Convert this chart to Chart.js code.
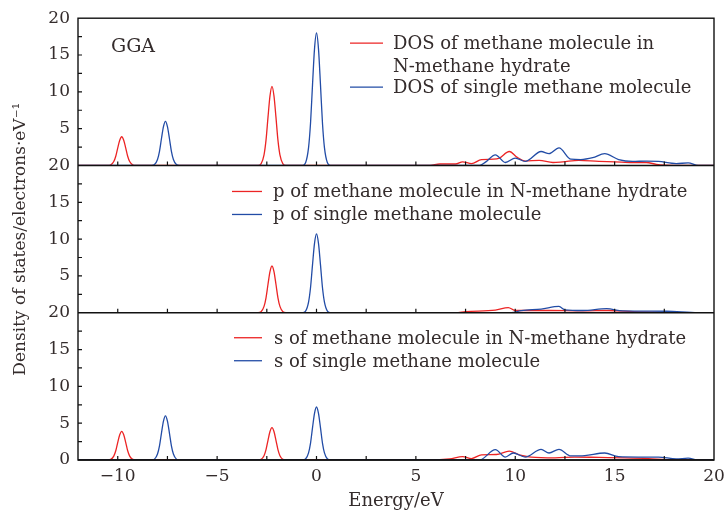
<!DOCTYPE html>
<html>
<head>
<meta charset="utf-8">
<script src="https://cdn.jsdelivr.net/npm/chart.js@4/dist/chart.umd.min.js"></script>
<style>
  body { margin: 0; background: #fff; }
  #wrap { width: 726px; height: 512px; }
</style>
</head>
<body>
<div id="wrap"><canvas id="dosChart" width="726" height="512"></canvas></div>
<script>
// energy range and y range of each panel
const xMin = -12, xMax = 20;
const yMin = 0, yMax = 20;
const xTickValues = [-10, -7.5, -5, -2.5, 0, 2.5, 5, 7.5, 10, 12.5, 15, 17.5, 20];
const yTickValues = [0, 2.5, 5, 7.5, 10, 12.5, 15, 17.5, 20];

// panel 1: total DOS  [energy, value]
const dosHydrate = [[-12,0],[-10.5,0],[-10.35,0.08],[-10.2,0.53],[-10.1,1.25],[-10.0,2.4],[-9.9,3.43],[-9.8,3.9],[-9.7,3.43],[-9.6,2.4],[-9.5,1.25],[-9.4,0.53],[-9.25,0.08],[-9.1,0],
  [-2.94,0],[-2.79,0.22],[-2.64,1.45],[-2.54,3.44],[-2.44,6.56],[-2.34,9.46],[-2.24,10.75],[-2.14,9.46],[-2.04,6.56],[-1.94,3.44],[-1.84,1.45],[-1.69,0.22],[-1.54,0],
  [5.7,0],[6.2,0.2],[7.0,0.2],[7.35,0.5],[7.8,0.25],[8.3,0.8],[8.9,0.85],[9.2,1.0],[9.7,1.9],[10.1,1.1],[10.5,0.6],[11.2,0.7],[11.9,0.4],[12.4,0.5],[13.2,0.7],[14.2,0.55],[15.0,0.5],[15.9,0.4],[16.6,0.4],[17.1,0.15],[17.6,0.05],[18.4,0],[20,0]];
const dosSingle = [[-12,0],[-8.3,0],[-8.15,0.12],[-8.0,0.81],[-7.9,1.92],[-7.8,3.66],[-7.7,5.28],[-7.6,6.0],[-7.5,5.28],[-7.4,3.66],[-7.3,1.92],[-7.2,0.81],[-7.05,0.12],[-6.9,0],
  [-0.7,0],[-0.55,0.36],[-0.4,2.43],[-0.3,5.76],[-0.2,10.98],[-0.1,15.84],[0,18],[0.1,15.84],[0.2,10.98],[0.3,5.76],[0.4,2.43],[0.55,0.36],[0.7,0],
  [8.2,0],[8.5,0.45],[9.0,1.45],[9.5,0.4],[10.0,1.0],[10.5,0.55],[11.3,1.9],[11.7,1.6],[12.2,2.4],[12.8,0.85],[13.3,0.8],[13.9,1.05],[14.5,1.6],[15.2,0.8],[15.9,0.55],[16.6,0.6],[17.2,0.55],[18.1,0.25],[18.7,0.35],[19.2,0],[20,0]];

// panel 2: p states
const pHydrate = [[-12,0],[-2.94,0],[-2.79,0.13],[-2.64,0.86],[-2.54,2.03],[-2.44,3.87],[-2.34,5.59],[-2.24,6.35],[-2.14,5.59],[-2.04,3.87],[-1.94,2.03],[-1.84,0.86],[-1.69,0.13],[-1.54,0],
  [7.0,0],[7.5,0.15],[9.0,0.35],[9.65,0.7],[10.0,0.3],[11.7,0.3],[13.4,0.25],[14.7,0.3],[15.9,0.15],[17.6,0.05],[19.2,0],[20,0]];
const pSingle = [[-12,0],[-0.7,0],[-0.55,0.21],[-0.4,1.44],[-0.3,3.42],[-0.2,6.53],[-0.1,9.42],[0,10.7],[0.1,9.42],[0.2,6.53],[0.3,3.42],[0.4,1.44],[0.55,0.21],[0.7,0],
  [9.8,0],[10.3,0.3],[11.3,0.5],[12.2,0.85],[12.5,0.4],[13.4,0.3],[14.6,0.55],[15.4,0.25],[17.6,0.2],[19.2,0],[20,0]];

// panel 3: s states
const sHydrate = [[-12,0],[-10.5,0],[-10.35,0.08],[-10.2,0.53],[-10.1,1.25],[-10.0,2.4],[-9.9,3.43],[-9.8,3.9],[-9.7,3.43],[-9.6,2.4],[-9.5,1.25],[-9.4,0.53],[-9.25,0.08],[-9.1,0],
  [-2.94,0],[-2.79,0.09],[-2.64,0.59],[-2.54,1.41],[-2.44,2.68],[-2.34,3.87],[-2.24,4.4],[-2.14,3.87],[-2.04,2.68],[-1.94,1.41],[-1.84,0.59],[-1.69,0.09],[-1.54,0],
  [5.7,0],[6.7,0.15],[7.35,0.45],[7.8,0.2],[8.3,0.7],[9.05,0.75],[9.7,1.2],[10.2,0.7],[10.8,0.4],[12.0,0.3],[13.0,0.4],[14.2,0.35],[15.5,0.3],[16.7,0.2],[17.6,0.05],[18.4,0],[20,0]];
const sSingle = [[-12,0],[-8.3,0],[-8.15,0.12],[-8.0,0.81],[-7.9,1.92],[-7.8,3.66],[-7.7,5.28],[-7.6,6.0],[-7.5,5.28],[-7.4,3.66],[-7.3,1.92],[-7.2,0.81],[-7.05,0.12],[-6.9,0],
  [-0.7,0],[-0.55,0.14],[-0.4,0.97],[-0.3,2.3],[-0.2,4.39],[-0.1,6.34],[0,7.2],[0.1,6.34],[0.2,4.39],[0.3,2.3],[0.4,0.97],[0.55,0.14],[0.7,0],
  [8.2,0],[9.0,1.4],[9.5,0.4],[9.9,0.95],[10.5,0.4],[11.3,1.45],[11.7,0.95],[12.2,1.45],[12.8,0.55],[13.5,0.6],[14.5,0.95],[15.2,0.45],[16.2,0.4],[17.2,0.4],[18.1,0.15],[18.7,0.25],[19.2,0],[20,0]];

// legend texts (one list per panel: hydrate line(s), single line)
const legendTop = [['DOS of methane molecule in', 'N-methane hydrate'], ['DOS of single methane molecule']];
const legendMid = [['p of methane molecule in N-methane hydrate'], ['p of single methane molecule']];
const legendBot = [['s of methane molecule in N-methane hydrate'], ['s of single methane molecule']];
const panelLabel = 'GGA';
const xTitle = 'Energy/eV';
const yTitle = 'Density of states/electrons\u00b7eV\u207b\u00b9';

const RED = 'rgb(236,36,36)';
const BLUE = 'rgb(34,76,166)';
const INK = '#342c2c';
const FONT = 'DejaVu Serif';

const toXY = arr => arr.map(p => ({x: p[0], y: p[1]}));

function line(data, color, axis) {
  return {
    data: toXY(data),
    borderColor: color,
    borderWidth: 1.3,
    pointRadius: 0,
    fill: false,
    cubicInterpolationMode: 'monotone',
    yAxisID: axis
  };
}

function yAxis(hideZero, withTitle) {
  return {
    type: 'linear',
    position: 'left',
    stack: 'panels',
    stackWeight: 1,
    min: yMin,
    max: yMax,
    grid: { display: false, drawTicks: false },
    border: { display: false },
    afterBuildTicks: s => { s.ticks = yTickValues.map(v => ({ value: v })); },
    ticks: {
      autoSkip: false,
      padding: 8,
      color: INK,
      font: { family: FONT, size: 17 },
      callback: v => (v % 5 !== 0 || (hideZero && v === 0)) ? '' : String(v)
    },
    title: {
      display: withTitle,
      text: yTitle,
      color: INK,
      font: { family: FONT, size: 17 },
      padding: { top: 10, bottom: 0 }
    },
    afterFit: s => { s.width = 78; }
  };
}

// frame, inward ticks, legends and panel label
const framePlugin = {
  id: 'frame',
  afterDatasetsDraw(chart) {
    const { ctx, chartArea: a, scales } = chart;
    const xs = scales.x;
    ctx.save();
    ctx.strokeStyle = '#111';
    ctx.lineWidth = 1.4;
    ctx.strokeRect(a.left, a.top, a.right - a.left, a.bottom - a.top);
    ['yTop', 'yMid', 'yBot'].forEach(id => {
      const ys = scales[id];
      const y0 = ys.getPixelForValue(0);
      ctx.lineWidth = 1.4;
      ctx.beginPath();
      ctx.moveTo(a.left, y0);
      ctx.lineTo(a.right, y0);
      ctx.stroke();
      ctx.lineWidth = 1.2;
      ctx.beginPath();
      xs.ticks.forEach(t => {
        if (t.value <= xMin || t.value >= xMax) return;
        const px = xs.getPixelForValue(t.value);
        ctx.moveTo(px, y0);
        ctx.lineTo(px, y0 - 4);
      });
      ys.ticks.forEach(t => {
        if (t.value <= yMin || t.value >= yMax) return;
        const py = ys.getPixelForValue(t.value);
        ctx.moveTo(a.left, py);
        ctx.lineTo(a.left + 4, py);
      });
      ctx.stroke();
    });

    ctx.fillStyle = INK;
    ctx.font = '18px "' + FONT + '"';
    ctx.textBaseline = 'alphabetic';
    ctx.textAlign = 'left';

    const drawLegend = (id, items, x0, x1, tx, rows) => {
      const top = scales[id].getPixelForValue(yMax);
      const colors = [RED, BLUE];
      items.forEach((lines, i) => {
        const ly = top + rows[i];
        ctx.strokeStyle = colors[i];
        ctx.lineWidth = 1.3;
        ctx.beginPath();
        ctx.moveTo(x0, ly);
        ctx.lineTo(x1, ly);
        ctx.stroke();
        lines.forEach((txt, k) => ctx.fillText(txt, tx, ly + 6 + k * 23));
      });
    };
    drawLegend('yTop', legendTop, 350, 383, 393, [25, 69]);
    drawLegend('yMid', legendMid, 232, 262, 273, [26, 49]);
    drawLegend('yBot', legendBot, 234, 262, 274, [25, 48]);

    ctx.font = '19px "' + FONT + '"';
    ctx.fillText(panelLabel, 111, scales.yTop.getPixelForValue(yMax) + 34);
    ctx.restore();
  }
};

new Chart(document.getElementById('dosChart'), {
  type: 'line',
  data: {
    datasets: [
      line(dosSingle, BLUE, 'yTop'),
      line(dosHydrate, RED, 'yTop'),
      line(pSingle, BLUE, 'yMid'),
      line(pHydrate, RED, 'yMid'),
      line(sSingle, BLUE, 'yBot'),
      line(sHydrate, RED, 'yBot')
    ]
  },
  options: {
    responsive: false,
    animation: false,
    layout: { padding: { top: 18, right: 12, left: 0, bottom: 0 } },
    plugins: { legend: { display: false }, tooltip: { enabled: false } },
    scales: {
      x: {
        type: 'linear',
        min: xMin,
        max: xMax,
        grid: { display: false, drawTicks: false },
        border: { display: false },
        afterBuildTicks: s => { s.ticks = xTickValues.map(v => ({ value: v })); },
        ticks: {
          autoSkip: false,
          maxRotation: 0,
          padding: 6,
          color: INK,
          font: { family: FONT, size: 17 },
          callback: v => (v % 5 !== 0) ? '' : (v < 0 ? '\u2212' + Math.abs(v) : String(v))
        },
        title: {
          display: true,
          text: xTitle,
          color: INK,
          font: { family: FONT, size: 18 },
          padding: { top: 0, bottom: 0 }
        },
        afterFit: s => { s.height = 52; s.paddingLeft = 0; s.paddingRight = 0; }
      },
      // first defined sits lowest in the stack
      yBot: yAxis(false, false),
      yMid: yAxis(true, true),
      yTop: yAxis(true, false)
    }
  },
  plugins: [framePlugin]
});
</script>
</body>
</html>
